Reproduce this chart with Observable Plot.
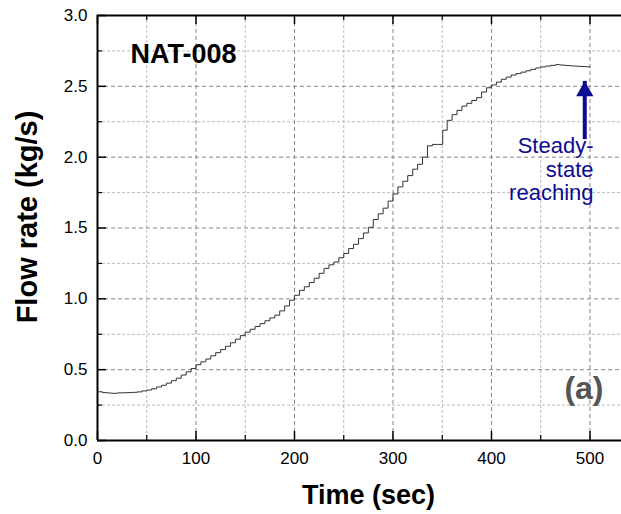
<!DOCTYPE html>
<html>
<head>
<meta charset="utf-8">
<script src="https://cdn.jsdelivr.net/npm/d3@7"></script>
<script src="https://cdn.jsdelivr.net/npm/@observablehq/plot@0.6"></script>
<style>
  html, body { margin: 0; padding: 0; background: #fff; }
  svg { display: block; }
</style>
</head>
<body>
<div id="chart"></div>
<script>
// ---- data ----
const time = [0,5,10,15,20,25,30,35,40,45,50,55,60,65,70,75,80,85,90,95,
  100,105,110,115,120,125,130,135,140,145,150,155,160,165,170,175,180,185,190,195,
  200,205,210,215,220,225,230,235,240,245,250,255,260,265,270,275,280,285,290,295,
  300,305,310,315,320,325,330,335,340,345,350,350.5,355,360,365,370,375,380,385,390,395,
  400,405,410,415,420,425,430,435,440,445,450,455,460,465,470,475,480,485,490,495,500];
const flow = [0.344,0.338,0.335,0.333,0.336,0.337,0.338,0.340,0.343,0.350,0.356,0.365,0.378,0.390,0.405,0.422,0.440,0.462,0.485,0.508,
  0.535,0.555,0.575,0.598,0.620,0.642,0.665,0.690,0.715,0.740,0.765,0.785,0.805,0.825,0.845,0.865,0.885,0.915,0.950,0.990,
  1.025,1.060,1.085,1.115,1.145,1.180,1.215,1.240,1.260,1.290,1.320,1.355,1.385,1.425,1.465,1.505,1.560,1.600,1.640,1.690,
  1.740,1.790,1.830,1.870,1.915,1.950,2.000,2.080,2.090,2.090,2.090,2.190,2.260,2.300,2.330,2.360,2.380,2.400,2.420,2.460,2.490,
  2.510,2.530,2.550,2.565,2.580,2.590,2.600,2.610,2.620,2.630,2.637,2.643,2.648,2.653,2.650,2.647,2.644,2.642,2.640,2.638,2.636];

const xMajorTicks = [0, 100, 200, 300, 400, 500];
const xMinorTicks = [50, 150, 250, 350, 450];
const yMajorTicks = [0, 0.5, 1.0, 1.5, 2.0, 2.5, 3.0];
const yMinorTicks = [0.25, 0.75, 1.25, 1.75, 2.25, 2.75];

const xLabel = "Time (sec)";
const yLabel = "Flow rate (kg/s)";
const caseLabel = "NAT-008";
const panelLabel = "(a)";
const noteText = "Steady-\nstate\nreaching";
const arrowAt = [{t: 494.7, from: 2.18, to: 2.535}];

// ---- layout ----
const W = 621, H = 514;
const mL = 97, mR = 0, mT = 15, mB = 74;
const frameW = W - mL - mR, frameH = H - mT - mB;
const font = "'Liberation Sans', Arial, Helvetica, sans-serif";
const navy = "#0c0c92";

const rows = time.map((t, i) => ({t, v: flow[i]}));

const chart = Plot.plot({
  width: W,
  height: H,
  marginLeft: mL,
  marginRight: mR,
  marginTop: mT,
  marginBottom: mB,
  style: {fontFamily: font, background: "#fff", color: "#000", overflow: "visible"},
  x: {domain: [0, 532]},
  y: {domain: [0, 3]},
  marks: [
    // grid
    Plot.gridX(xMinorTicks, {stroke: "#bbb", strokeOpacity: 1, strokeDasharray: "3,2"}),
    Plot.gridY(yMinorTicks, {stroke: "#bbb", strokeOpacity: 1, strokeDasharray: "3,2"}),
    Plot.gridX(xMajorTicks, {stroke: "#888", strokeOpacity: 1, strokeDasharray: "4,3"}),
    Plot.gridY(yMajorTicks, {stroke: "#888", strokeOpacity: 1, strokeDasharray: "4,3"}),
    // tick labels
    Plot.axisX(xMajorTicks, {tickSize: 0, tickPadding: 11, fontSize: 17, label: null, tickFormat: d => String(d)}),
    Plot.axisY(yMajorTicks, {tickSize: 0, tickPadding: 10, fontSize: 17, label: null, tickFormat: d3.format(".1f")}),
    // inward ticks: bottom, top, left
    Plot.ruleX(xMajorTicks, {x: d => d, insetTop: frameH - 9, stroke: "#000", strokeWidth: 1.5}),
    Plot.ruleX(xMinorTicks, {x: d => d, insetTop: frameH - 5, stroke: "#000", strokeWidth: 1.2}),
    Plot.ruleX(xMajorTicks, {x: d => d, insetBottom: frameH - 9, stroke: "#000", strokeWidth: 1.5}),
    Plot.ruleX(xMinorTicks, {x: d => d, insetBottom: frameH - 5, stroke: "#000", strokeWidth: 1.2}),
    Plot.ruleY(yMajorTicks, {y: d => d, insetRight: frameW - 9, stroke: "#000", strokeWidth: 1.5}),
    Plot.ruleY(yMinorTicks, {y: d => d, insetRight: frameW - 5, stroke: "#000", strokeWidth: 1.2}),
    // frame lines
    Plot.ruleY([0], {stroke: "#000", strokeWidth: 2}),
    Plot.ruleY([3], {stroke: "#000", strokeWidth: 2}),
    Plot.ruleX([0], {stroke: "#000", strokeWidth: 2}),
    // data
    Plot.line(rows, {x: "t", y: "v", stroke: "#333", strokeWidth: 1, curve: "step-after"}),
    // annotation arrow
    Plot.ruleX(arrowAt, {x: "t", y1: "from", y2: "to", insetTop: 8, stroke: navy, strokeWidth: 4}),
    Plot.dot(arrowAt, {x: "t", y: "to", symbol: "triangle", r: 6.4, fill: navy, stroke: "none", dy: 9.8}),
    Plot.text([noteText], {frameAnchor: "top-right", dx: -28, dy: 120, textAnchor: "end", lineAnchor: "top",
      lineHeight: 1.09, fontSize: 22, fill: navy}),
    // labels
    Plot.text([caseLabel], {frameAnchor: "top-left", dx: 33, dy: 28, textAnchor: "start", lineAnchor: "top",
      fontSize: 27, fontWeight: "bold", fill: "#000"}),
    Plot.text([panelLabel], {frameAnchor: "bottom-right", dx: -18, dy: -52, textAnchor: "end", lineAnchor: "middle",
      fontSize: 32, fontWeight: "bold", fill: "#555"}),
    Plot.text([xLabel], {frameAnchor: "bottom", dx: 9, dy: 55, textAnchor: "middle", lineAnchor: "middle",
      fontSize: 27, fontWeight: "bold", fill: "#000"}),
    Plot.text([yLabel], {frameAnchor: "left", rotate: -90, dx: -70, dy: -11, textAnchor: "middle", lineAnchor: "middle",
      fontSize: 29, fontWeight: "bold", fill: "#000"})
  ]
});
document.getElementById("chart").appendChild(chart);
</script>
</body>
</html>
